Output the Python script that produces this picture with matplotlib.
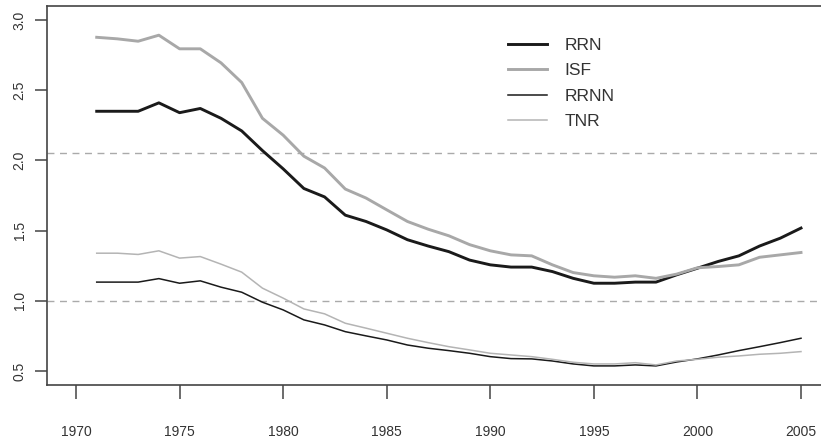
import numpy as np
import matplotlib.pyplot as plt

# datos (1971-2005)
anios = np.arange(1971, 2006)
rrn = [2.35, 2.35, 2.35, 2.41, 2.34, 2.37, 2.30, 2.21, 2.07, 1.94,
       1.80, 1.74, 1.61, 1.565, 1.505, 1.435, 1.39, 1.35, 1.29, 1.256,
       1.24, 1.24, 1.208, 1.16, 1.125, 1.125, 1.133, 1.133, 1.185, 1.232,
       1.28, 1.32, 1.39, 1.446, 1.518]
isf = [2.877, 2.866, 2.849, 2.892, 2.795, 2.795, 2.695, 2.555, 2.30, 2.18,
       2.03, 1.946, 1.796, 1.732, 1.648, 1.565, 1.51, 1.463, 1.40, 1.356,
       1.327, 1.32, 1.256, 1.201, 1.178, 1.168, 1.178, 1.16, 1.19, 1.235,
       1.244, 1.256, 1.31, 1.327, 1.344]
rrnn = [1.133, 1.133, 1.133, 1.158, 1.125, 1.142, 1.097, 1.061, 0.99, 0.935,
        0.864, 0.828, 0.78, 0.75, 0.721, 0.685, 0.662, 0.645, 0.626, 0.602,
        0.588, 0.586, 0.571, 0.55, 0.536, 0.536, 0.543, 0.536, 0.564, 0.586,
        0.614, 0.645, 0.673, 0.702, 0.733]
tnr = [1.339, 1.339, 1.33, 1.356, 1.304, 1.315, 1.261, 1.204, 1.09, 1.019,
       0.942, 0.907, 0.84, 0.805, 0.769, 0.733, 0.702, 0.673, 0.65, 0.626,
       0.614, 0.602, 0.583, 0.562, 0.55, 0.55, 0.559, 0.543, 0.571, 0.583,
       0.598, 0.607, 0.619, 0.626, 0.638]
niveles = [2.05, 1.0]

plt.rcParams['font.family'] = ['Liberation Sans', 'DejaVu Sans']

fig = plt.figure(figsize=(8.21, 4.42), dpi=100)
ax = fig.add_axes([47 / 821, 57 / 442, 783 / 821, 379 / 442])

for n in niveles:
    ax.axhline(n, color='#aaaaaa', lw=1, ls=(0, (5, 4)))

ax.plot(anios, rrn, color='#1a1a1a', lw=2.1, label='RRN')
ax.plot(anios, isf, color='#a8a8a8', lw=2.1, label='ISF')
ax.plot(anios, rrnn, color='#1a1a1a', lw=1.1, label='RRNN')
ax.plot(anios, tnr, color='#b4b4b4', lw=1.1, label='TNR')

ax.set_xlim(1968.6, 2006.4)
ax.set_ylim(0.4, 3.1)
ax.set_xticks(range(1970, 2006, 5))
ax.set_yticks([0.5, 1.0, 1.5, 2.0, 2.5, 3.0])
ax.set_yticklabels(['0.5', '1.0', '1.5', '2.0', '2.5', '3.0'], rotation=90, va='center')

for s in ['left', 'top', 'bottom']:
    ax.spines[s].set_color('#444444')
    ax.spines[s].set_linewidth(1.2)
ax.spines['right'].set_visible(False)
ax.tick_params(axis='x', length=10, width=1.1, color='#444444', pad=19,
               labelsize=10, labelcolor='#333333')
ax.tick_params(axis='y', length=8.6, width=1.1, color='#444444', pad=6,
               labelsize=10, labelcolor='#333333')

leg = ax.legend(loc='upper left', bbox_to_anchor=(508 / 821, 1 - 38 / 442),
                bbox_transform=fig.transFigure, frameon=False, fontsize=12.5,
                handlelength=2.25, handletextpad=1.0, labelspacing=0.58,
                borderpad=0, borderaxespad=0)
for t in leg.get_texts():
    t.set_color('#333333')

fig.savefig('out.png', dpi=100)
